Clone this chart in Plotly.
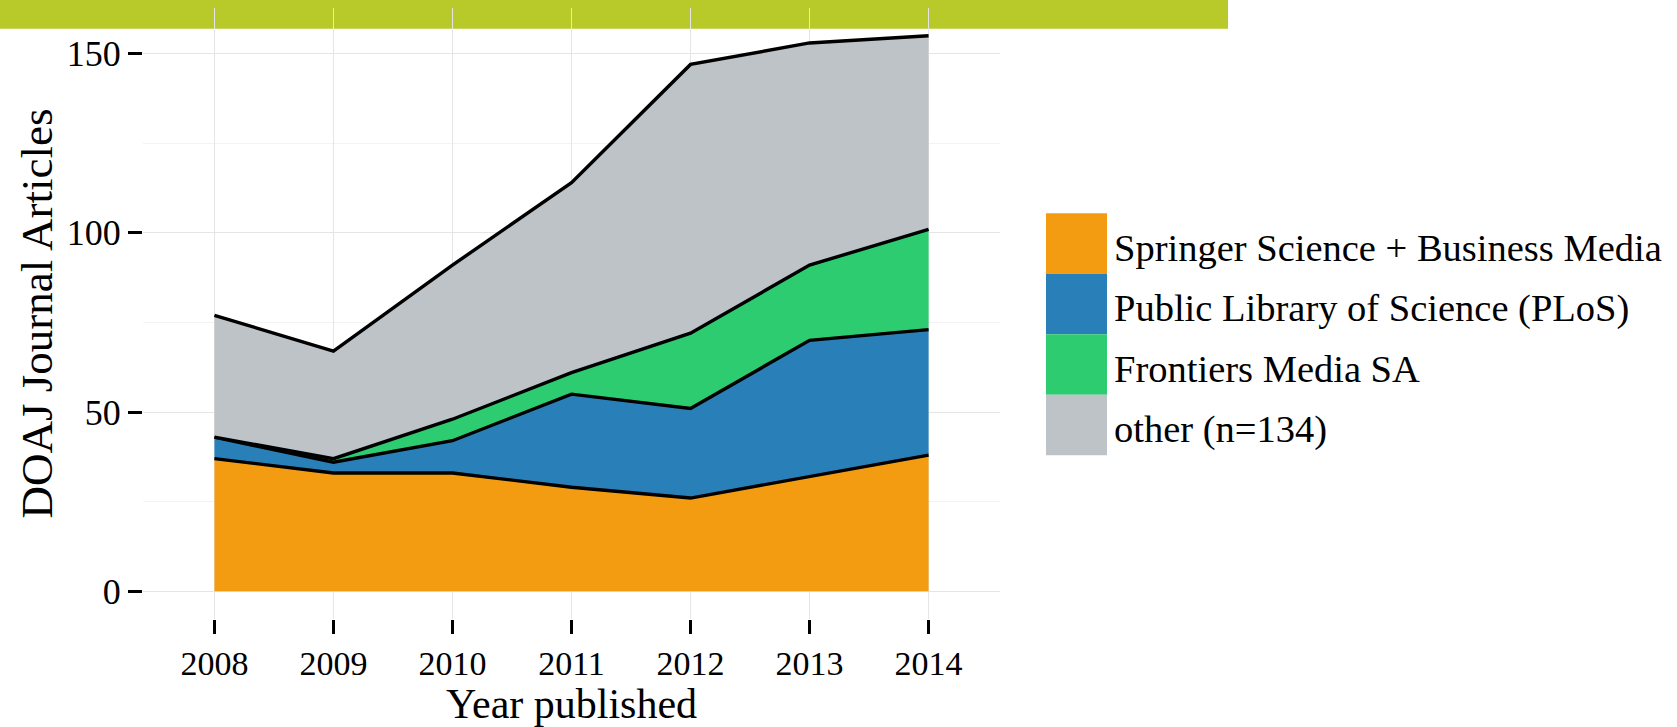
import plotly.graph_objects as go

years = [2008, 2009, 2010, 2011, 2012, 2013, 2014]
year_labels = ["2008", "2009", "2010", "2011", "2012", "2013", "2014"]
springer = [37, 33, 33, 29, 26, 32, 38]
plos = [6, 3, 9, 26, 25, 38, 35]
frontiers = [0, 1, 6, 6, 21, 21, 28]
other = [34, 30, 43, 53, 75, 62, 54]

series_names = ["Springer Science + Business Media", "Public Library of Science (PLoS)",
                "Frontiers Media SA", "other (n=134)"]
series_values = [springer, plos, frontiers, other]
colors = ["#F39C12", "#2980B9", "#2ECC71", "#BDC3C7"]

W, H = 1677, 727
L, R, T, B = 143, 1000, 8, 624  # plot area in pixels
pw, ph = R - L, B - T

def px(x):
    return (x - L) / pw

def py(y):
    return (B - y) / ph

FONT = "Liberation Serif, Times New Roman, serif"

fig = go.Figure()
for name, vals, col in zip(series_names, series_values, colors):
    fig.add_trace(go.Scatter(
        x=years, y=vals, name=name, mode="lines", stackgroup="one",
        fillcolor=col, line=dict(color="black", width=3.4),
        showlegend=False,
    ))

shapes = [dict(type="rect", xref="paper", yref="paper", layer="below",
               x0=px(0), x1=px(1228), y0=py(29), y1=py(0),
               fillcolor="#B8C92A", line=dict(width=0))]
annotations = []
key_top, key_h, key_x0, key_x1 = 215, 61, 1046, 1107
for i, (name, col) in enumerate(zip(series_names, colors)):
    y0 = key_top + i * key_h
    shapes.append(dict(type="rect", xref="paper", yref="paper",
                       x0=px(key_x0), x1=px(key_x1), y0=py(y0 + key_h), y1=py(y0),
                       fillcolor=col, line=dict(width=0)))
    annotations.append(dict(xref="paper", yref="paper", x=px(1112), y=py(y0 + key_h / 2 + 4),
                            text=name, showarrow=False, xanchor="left", yanchor="middle",
                            font=dict(family=FONT, size=38.5, color="black")))

fig.update_layout(
    width=W, height=H,
    margin=dict(l=L, r=W - R, t=T, b=H - B, pad=0),
    paper_bgcolor="white", plot_bgcolor="rgba(0,0,0,0)",
    shapes=shapes, annotations=annotations,
    font=dict(family=FONT, color="black"),
    xaxis=dict(range=[2007.4, 2014.6], tickmode="array", tickvals=years, ticktext=year_labels,
               showgrid=True, gridcolor="#E5E5E5", gridwidth=1, zeroline=False, showline=False,
               ticks="outside", ticklen=14, tickwidth=3, tickcolor="black",
               tickfont=dict(family=FONT, size=34, color="black"),
               title=dict(text="Year published", font=dict(family=FONT, size=42, color="black"),
                          standoff=8)),
    yaxis=dict(range=[-7.75, 162.75], tickmode="array", tickvals=[0, 50, 100, 150],
               showgrid=True, gridcolor="#E5E5E5", gridwidth=1, zeroline=False, showline=False,
               ticks="outside", ticklen=14, tickwidth=3, tickcolor="black",
               tickfont=dict(family=FONT, size=36, color="black"),
               minor=dict(tickmode="array", tickvals=[25, 75, 125], showgrid=True,
                          gridcolor="#F3F3F3", gridwidth=1, ticks=""),
               title=dict(text="DOAJ Journal Articles", font=dict(family=FONT, size=45, color="black"),
                          standoff=0)),
)

fig.write_html("out.html", config={"displayModeBar": False},
               post_script="document.body.style.margin='0';document.body.style.overflow='hidden';")
